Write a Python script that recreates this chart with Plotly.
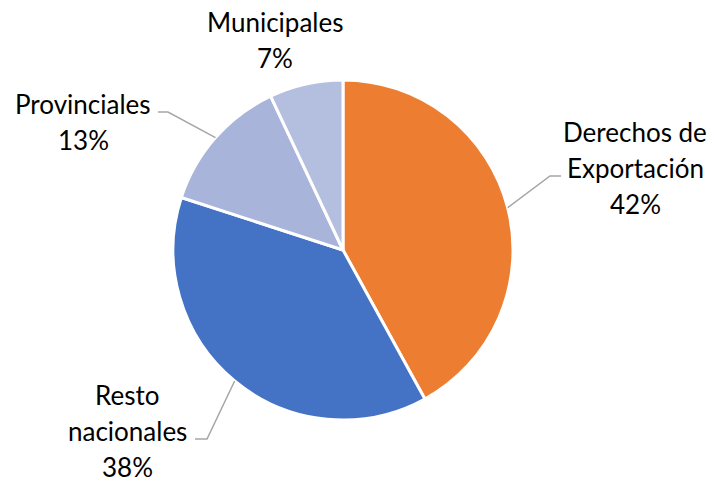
import math
import plotly.graph_objects as go

# ---- data ----
labels = ["Derechos de Exportación", "Resto nacionales", "Provinciales", "Municipales"]
values = [42, 38, 13, 7]
label_lines = [["Derechos de", "Exportación"], ["Resto", "nacionales"], ["Provinciales"], ["Municipales"]]
colors = ["#ED7D31", "#4472C4", "#A9B4DB", "#B4BEDF"]

# ---- layout geometry (screen pixels) ----
W, H = 714, 483
cx, cy, r = 343, 250, 170
FONT = "Lato"
FS = 26
LINE_H = 36
# label block centre x, first line y (screen pixels)
label_pos = [(635, 132), (127, 395), (83, 104), (275, 22)]
# leader line: elbow and end (screen pixels); None = no leader
leader = [((550, 176), (561, 176)), ((207, 439), (195, 439)), ((168, 112), (158, 112)), None]


def px(x):
    return x / W


def py(y):
    return 1 - y / H


fig = go.Figure(go.Pie(
    labels=labels, values=values, sort=False, direction="clockwise", rotation=0,
    marker=dict(colors=colors, line=dict(color="white", width=3)),
    textinfo="none", hoverinfo="label+percent", showlegend=False,
    domain=dict(x=[px(cx - r), px(cx + r)], y=[py(cy + r), py(cy - r)]),
))

total = sum(values)
annotations = []
shapes = []
cum = 0
for i, v in enumerate(values):
    pct = round(100 * v / total)
    lines = label_lines[i] + [f"{pct}%"]
    lx, ly = label_pos[i]
    for k, t in enumerate(lines):
        annotations.append(dict(x=px(lx), y=py(ly + k * LINE_H), xref="paper", yref="paper",
                                text=t, showarrow=False, xanchor="center", yanchor="middle",
                                font=dict(family=FONT, size=FS, color="#000000")))
    mid = (cum + v / 2) / total * 2 * math.pi
    cum += v
    if leader[i] is not None:
        sx = cx + r * math.sin(mid)
        sy = cy - r * math.cos(mid)
        (ex, ey), (fx, fy) = leader[i]
        shapes.append(dict(type="path", xref="paper", yref="paper",
                           path=f"M {px(sx)} {py(sy)} L {px(ex)} {py(ey)} L {px(fx)} {py(fy)}",
                           line=dict(color="#A6A6A6", width=1.5)))

fig.update_layout(width=W, height=H, margin=dict(l=0, r=0, t=0, b=0),
                  paper_bgcolor="white", plot_bgcolor="white",
                  annotations=annotations, shapes=shapes)
fig.write_html("out.html", config={"displayModeBar": False},
               post_script="document.body.style.margin='0';document.body.style.overflow='hidden';")
